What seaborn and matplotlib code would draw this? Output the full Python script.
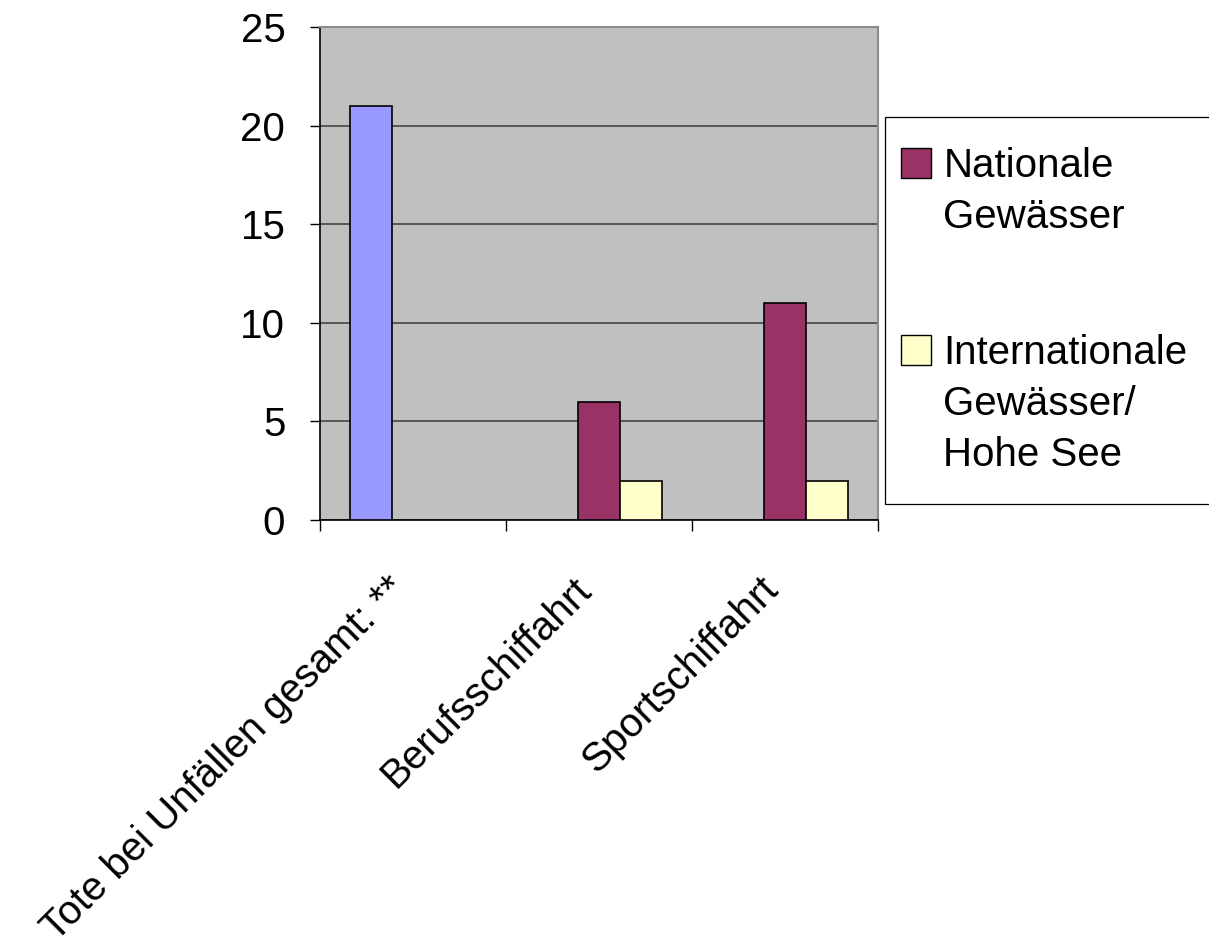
import matplotlib
matplotlib.use("Agg")
import matplotlib.pyplot as plt
from matplotlib.patches import Patch, Rectangle
from matplotlib.legend_handler import HandlerPatch
import numpy as np
import pandas as pd
import seaborn as sns

# Categories and values (deaths in shipping accidents)
categories = ["Tote bei Unfällen gesamt: **", "Berufsschiffahrt", "Sportschiffahrt"]
series = ["Gesamt", "Nationale\nGewässer", "Internationale\nGewässer/\nHohe See"]
total_values = [21, np.nan, np.nan]
national_values = [np.nan, 6, 11]
international_values = [np.nan, 2, 2]
colors = ["#9999FF", "#993366", "#FFFFCC"]
y_ticks = [0, 5, 10, 15, 20, 25]

sns.set_theme(style="ticks")
plt.rcParams["font.family"] = ["Liberation Sans", "DejaVu Sans"]
plt.rcParams["text.color"] = "black"
plt.rcParams["xtick.color"] = "black"
plt.rcParams["ytick.color"] = "black"
plt.rcParams["xtick.labelcolor"] = "black"
plt.rcParams["ytick.labelcolor"] = "black"

FS = 29

rows = []
for name, vals in zip(series, [total_values, national_values, international_values]):
    for cat, v in zip(categories, vals):
        if not np.isnan(v):
            rows.append({"Kategorie": cat, "Reihe": name, "Anzahl": v})
df = pd.DataFrame(rows)

fig = plt.figure(figsize=(12.09, 9.51), dpi=100)
ax = fig.add_axes([320 / 1209, 1 - 520 / 951, (878 - 320) / 1209, (520 - 27) / 951])
ax.set_facecolor("#C0C0C0")

sns.barplot(
    data=df, x="Kategorie", y="Anzahl", hue="Reihe",
    order=categories, hue_order=series,
    palette=dict(zip(series, colors)), saturation=1,
    width=0.68, gap=0, edgecolor="black", linewidth=1.2,
    legend=False, ax=ax, zorder=3,
)

ax.set_xlim(-0.5, len(categories) - 0.5)
ax.set_ylim(0, 25)
ax.set_xlabel("")
ax.set_ylabel("")

# y axis
ax.set_yticks(y_ticks)
ax.set_yticklabels([str(t) for t in y_ticks], fontsize=FS, color="black")
ax.tick_params(axis="y", direction="out", length=7, width=1, color="black", pad=18)
ax.yaxis.grid(True, color="#3a3a3a", linewidth=1.1, zorder=1)
ax.set_axisbelow(True)

# x axis: tick marks between categories, labels at category centres
ax.set_xticks(np.arange(-0.5, len(categories)), labels=[""] * (len(categories) + 1))
ax.set_xticks(np.arange(len(categories)), labels=categories, minor=True)
ax.tick_params(axis="x", which="major", direction="out", length=8, width=1, color="black")
ax.tick_params(axis="x", which="minor", length=0, pad=36)
for lab in ax.get_xticklabels(minor=True):
    lab.set_rotation(45)
    lab.set_ha("right")
    lab.set_fontsize(FS)
    lab.set_color("black")

for side in ["left", "bottom"]:
    ax.spines[side].set_color("black")
    ax.spines[side].set_linewidth(1.2)
for side in ["top", "right"]:
    ax.spines[side].set_visible(True)
    ax.spines[side].set_color("#8c8c8c")
    ax.spines[side].set_linewidth(1.5)


class SquareKey(HandlerPatch):
    """Fixed-size square legend key with a black outline."""

    def create_artists(self, legend, orig_handle, xdescent, ydescent,
                       width, height, fontsize, trans):
        side = 0.74 * fontsize
        rect = Rectangle((-xdescent - 10, 0), side, side,
                         facecolor=orig_handle.get_facecolor(),
                         edgecolor="black", linewidth=1.0, transform=trans)
        return [rect]


legend_handles = [Patch(facecolor=colors[1]), Patch(facecolor=colors[2])]
leg = fig.legend(
    legend_handles, series[1:],
    handler_map={Patch: SquareKey()},
    loc="upper left", mode="expand",
    bbox_to_anchor=(885 / 1209, 1 - 117 / 951, 0.35, 0),
    borderaxespad=0, borderpad=0.75, labelspacing=2.45,
    handlelength=0.4, handleheight=0.7, handletextpad=0.3,
    fontsize=FS, frameon=True, fancybox=False,
)
frame = leg.get_frame()
frame.set_edgecolor("black")
frame.set_linewidth(0.9)
frame.set_facecolor("white")
frame.set_alpha(1)
for t in leg.get_texts():
    t.set_linespacing(1.42)
    t.set_color("black")

# Align the top of each key with the top of the first line of its label
fig.canvas.draw()
renderer = fig.canvas.get_renderer()
for t, key in zip(leg.get_texts(), leg.legend_handles):
    text_top = t.get_window_extent(renderer).y1
    key_top = key.get_window_extent(renderer).y1
    key.set_y(key.get_y() + (text_top - key_top - 1) * 72 / fig.dpi)

fig.savefig("out.png", dpi=100, facecolor="white")
